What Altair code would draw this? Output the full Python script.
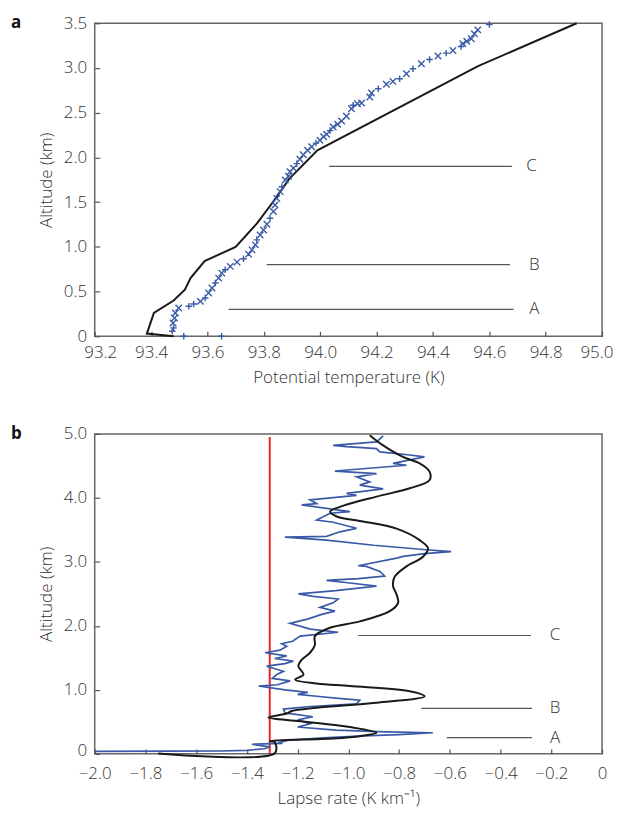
import altair as alt
import pandas as pd

# ---------------- Panel a data ----------------
# Observed potential temperature (blue crosses)
obs_T = [93.516, 93.65, 93.475, 93.48, 93.478, 93.483, 93.486, 93.498, 93.534, 93.551,
         93.575, 93.592, 93.604, 93.616, 93.628, 93.64, 93.651, 93.663, 93.681, 93.705,
         93.728, 93.746, 93.758, 93.77, 93.775, 93.787, 93.799, 93.811, 93.822, 93.834,
         93.84, 93.846, 93.858, 93.864, 93.876, 93.887, 93.893, 93.905, 93.917, 93.928,
         93.94, 93.955, 93.97, 93.985, 93.999, 94.012, 94.023, 94.035, 94.046, 94.062,
         94.076, 94.093, 94.111, 94.117, 94.132, 94.147, 94.176, 94.182, 94.206, 94.235,
         94.258, 94.282, 94.306, 94.329, 94.359, 94.388, 94.418, 94.447, 94.471, 94.5,
         94.506, 94.52, 94.536, 94.547, 94.559, 94.6]
obs_alt = [0.0, 0.0, 0.056, 0.093, 0.149, 0.204, 0.26, 0.316, 0.335, 0.36,
           0.39, 0.427, 0.483, 0.539, 0.595, 0.65, 0.706, 0.743, 0.781, 0.829,
           0.866, 0.918, 0.966, 1.022, 1.078, 1.133, 1.189, 1.252, 1.319, 1.394,
           1.468, 1.542, 1.617, 1.672, 1.747, 1.79, 1.84, 1.88, 1.93, 1.98,
           2.03, 2.08, 2.12, 2.16, 2.192, 2.23, 2.259, 2.3, 2.341, 2.37,
           2.408, 2.46, 2.545, 2.583, 2.6, 2.609, 2.676, 2.72, 2.768, 2.817,
           2.85, 2.88, 2.936, 2.991, 3.047, 3.095, 3.133, 3.166, 3.196, 3.24,
           3.27, 3.3, 3.326, 3.382, 3.426, 3.486]
obs_mark = ["+", "+", "+", "+", "×", "×", "×", "×", "+", "+",
            "×", "+", "×", "×", "+", "×", "×", "+", "×", "×",
            "+", "×", "×", "×", "+", "×", "×", "×", "+", "×",
            "×", "×", "×", "+", "×", "×", "×", "×", "+", "×",
            "×", "×", "×", "+", "×", "×", "×", "+", "×", "×",
            "×", "×", "×", "+", "×", "×", "×", "×", "+", "×",
            "×", "+", "×", "+", "×", "+", "×", "+", "×", "+",
            "×", "×", "×", "×", "×", "+"]

# Model profile (black line)
mod_T = [93.48, 93.385, 93.41, 93.48, 93.52, 93.54, 93.59, 93.70, 93.775, 93.83,
         93.89, 93.99, 94.56, 94.91]
mod_alt = [0.0, 0.03, 0.26, 0.40, 0.52, 0.65, 0.84, 1.00, 1.26, 1.49,
           1.76, 2.08, 3.02, 3.5]

# Layer markers A, B, C
a_names = ["A", "B", "C"]
a_alt = [0.30, 0.80, 1.90]
a_start = [93.675, 93.81, 94.032]
a_end = [94.686, 94.673, 94.68]
a_label_x = [94.76, 94.76, 94.75]

# ---------------- Panel b data ----------------
obs_rate = [-2.0, -1.7, -1.5, -1.4, -1.33, -1.31, -1.38, -1.26, -1.27, -1.24,
            -1.10, -0.94, -0.80, -0.667, -0.85, -1.05, -1.20, -1.15, -1.20, -1.14,
            -1.25, -1.256, -1.15, -0.968, -0.955, -1.05, -1.125, -1.20, -1.16, -1.25,
            -1.354, -1.28, -1.23, -1.30, -1.282, -1.256, -1.322, -1.25, -1.217, -1.29,
            -1.243, -1.328, -1.27, -1.243, -1.263, -1.22, -1.19, -1.04, -1.15, -1.23,
            -1.158, -1.105, -1.053, -1.112, -1.06, -1.04, -1.138, -1.197, -1.05, -0.889,
            -0.994, -1.086, -0.96, -0.857, -0.876, -0.929, -0.961, -0.81, -0.784, -0.70,
            -0.595, -0.693, -0.90, -1.086, -1.25, -1.086, -1.033, -0.968, -1.06, -1.125,
            -1.072, -0.994, -1.184, -1.125, -1.151, -0.968, -1.007, -0.863, -0.955, -0.916,
            -0.968, -0.889, -1.053, -0.771, -0.824, -0.70, -0.758, -0.876, -0.889, -1.007,
            -1.06, -0.889, -0.863]
obs_ralt = [0.04, 0.042, 0.045, 0.055, 0.08, 0.11, 0.15, 0.165, 0.18, 0.21,
            0.25, 0.28, 0.30, 0.33, 0.345, 0.37, 0.42, 0.47, 0.53, 0.58,
            0.64, 0.70, 0.74, 0.78, 0.84, 0.87, 0.90, 0.93, 0.96, 1.00,
            1.06, 1.08, 1.14, 1.18, 1.24, 1.29, 1.37, 1.41, 1.45, 1.49,
            1.53, 1.58, 1.62, 1.68, 1.72, 1.76, 1.84, 1.90, 1.95, 2.04,
            2.11, 2.18, 2.23, 2.29, 2.36, 2.42, 2.46, 2.50, 2.55, 2.62,
            2.67, 2.71, 2.74, 2.78, 2.85, 2.93, 2.94, 3.06, 3.085, 3.13,
            3.16, 3.19, 3.26, 3.34, 3.386, 3.40, 3.47, 3.525, 3.62, 3.655,
            3.76, 3.785, 3.89, 3.91, 3.97, 4.04, 4.07, 4.14, 4.20, 4.25,
            4.33, 4.38, 4.42, 4.51, 4.54, 4.64, 4.67, 4.72, 4.77, 4.80,
            4.82, 4.875, 4.97]

mod_rate = [-1.75, -1.29, -1.29, -1.31, -1.06, -0.95, -0.889, -0.994, -1.19, -1.315,
            -1.243, -1.223, -1.125, -0.889, -0.699, -0.758, -0.994, -1.125, -1.21, -1.177,
            -1.197, -1.184, -1.151, -1.132, -1.132, -1.073, -0.955, -0.837, -0.804, -0.81,
            -0.824, -0.817, -0.771, -0.706, -0.686, -0.719, -0.81, -0.955, -1.046, -1.072,
            -1.033, -0.889, -0.758, -0.68, -0.68, -0.719, -0.785, -0.863, -0.916]
mod_ralt = [0.005, 0.01, 0.18, 0.20, 0.24, 0.28, 0.33, 0.42, 0.51, 0.57,
            0.63, 0.67, 0.72, 0.80, 0.90, 0.98, 1.06, 1.10, 1.16, 1.24,
            1.37, 1.47, 1.58, 1.70, 1.84, 1.97, 2.07, 2.23, 2.36, 2.49,
            2.62, 2.77, 2.93, 3.08, 3.21, 3.34, 3.52, 3.64, 3.71, 3.785,
            3.86, 4.02, 4.15, 4.28, 4.41, 4.54, 4.64, 4.82, 4.98]

adiabat_rate = [-1.31, -1.31]
adiabat_alt = [0.0, 4.95]

b_names = ["A", "B", "C"]
b_alt = [0.254, 0.71, 1.85]
b_start = [-0.612, -0.712, -0.961]
b_end = [-0.276, -0.276, -0.28]
b_label_x = [-0.185, -0.185, -0.185]

# ---------------- Styling ----------------
FONT = "Open Sans"
TXT = "#333333"
BLUE = "#3a5aa8"
W = 509

df_obs = pd.DataFrame({"T": obs_T, "alt": obs_alt, "m": obs_mark})
df_mod = pd.DataFrame({"T": mod_T, "alt": mod_alt, "i": range(len(mod_T))})
df_ann_a = pd.DataFrame({"name": a_names, "alt": a_alt, "x0": a_start, "x1": a_end, "lx": a_label_x})

xa = alt.X("T:Q", scale=alt.Scale(domain=[93.2, 95.0], nice=False),
           axis=alt.Axis(values=[93.2 + 0.2 * k for k in range(10)], format=".1f",
                         labelFlush=True, labelFlushOffset=11, labelPadding=8, titlePadding=9,
                         title="Potential temperature (K)"))
ya = alt.Y("alt:Q", scale=alt.Scale(domain=[0, 3.5], nice=False),
           axis=alt.Axis(values=[0, 0.5, 1, 1.5, 2, 2.5, 3, 3.5],
                         labelExpr="datum.value == 0 ? '0' : format(datum.value, '.1f')",
                         title="Altitude (km)"))

xshape = "M-1,-1L1,1M1,-1L-1,1"
pshape = "M-1,0L1,0M0,-1L0,1"

pa_pts = alt.Chart(df_obs).mark_point(size=42, strokeWidth=1.4, filled=False, opacity=1).encode(
    x=xa, y=ya,
    shape=alt.Shape("m:N", scale=alt.Scale(domain=["×", "+"], range=[xshape, pshape]), legend=None),
    color=alt.value(BLUE))
pa_line = alt.Chart(df_mod).mark_line(color="#1a1a1a", strokeWidth=2).encode(
    x=alt.X("T:Q"), y=alt.Y("alt:Q"), order="i:Q")
pa_rules = alt.Chart(df_ann_a).mark_rule(color="#555555", strokeWidth=1.2).encode(
    x=alt.X("x0:Q"), x2="x1:Q", y=alt.Y("alt:Q"))
pa_text = alt.Chart(df_ann_a).mark_text(font=FONT, fontSize=17, fontWeight=300, color=TXT, align="center", baseline="middle").encode(
    x=alt.X("lx:Q"), y=alt.Y("alt:Q"), text="name:N")
pa_tag = alt.Chart(pd.DataFrame({"t": ["a"]})).mark_text(font=FONT, fontSize=17, fontWeight="bold", color="#111", align="left", baseline="middle").encode(
    x=alt.value(-84), y=alt.value(0), text="t:N")

panel_a = alt.layer(pa_line, pa_pts, pa_rules, pa_text, pa_tag).properties(width=W, height=314)

df_bobs = pd.DataFrame({"r": obs_rate, "alt": obs_ralt, "i": range(len(obs_rate))})
df_bmod = pd.DataFrame({"r": mod_rate, "alt": mod_ralt, "i": range(len(mod_rate))})
df_adi = pd.DataFrame({"r": adiabat_rate, "alt": adiabat_alt})
df_ann_b = pd.DataFrame({"name": b_names, "alt": b_alt, "x0": b_start, "x1": b_end, "lx": b_label_x})

xb = alt.X("r:Q", scale=alt.Scale(domain=[-2.0, 0], nice=False),
           axis=alt.Axis(values=[-2.0 + 0.2 * k for k in range(11)],
                         labelFlush=False, labelPadding=12, titlePadding=9,
                         labelExpr="abs(datum.value) < 1e-9 ? '0' : replace(format(datum.value, '.1f'), '-', '\u2212')",
                         title="Lapse rate (K km\u207b\u00b9)"))
yb = alt.Y("alt:Q", scale=alt.Scale(domain=[0, 5], nice=False),
           axis=alt.Axis(values=[0, 0.5, 1, 1.5, 2, 2.5, 3, 3.5, 4, 4.5, 5],
                         labelOffset={"condition": {"test": "datum.value === 0", "value": -3}, "value": 0},
                         labelExpr="datum.value == 0 ? '0' : format(datum.value, '.1f')",
                         title="Altitude (km)"))

pb_obs = alt.Chart(df_bobs).mark_line(color=BLUE, strokeWidth=1.7).encode(x=xb, y=yb, order="i:Q")
pb_mod = alt.Chart(df_bmod).mark_line(color="#1a1a1a", strokeWidth=2, interpolate="catmull-rom").encode(
    x=alt.X("r:Q"), y=alt.Y("alt:Q"), order="i:Q")
pb_adi = alt.Chart(df_adi).mark_line(color="#e8262a", strokeWidth=2).encode(x=alt.X("r:Q"), y=alt.Y("alt:Q"))
pb_rules = alt.Chart(df_ann_b).mark_rule(color="#555555", strokeWidth=1.2).encode(
    x=alt.X("x0:Q"), x2="x1:Q", y=alt.Y("alt:Q"))
pb_text = alt.Chart(df_ann_b).mark_text(font=FONT, fontSize=17, fontWeight=300, color=TXT, align="center", baseline="middle").encode(
    x=alt.X("lx:Q"), y=alt.Y("alt:Q"), text="name:N")
pb_tag = alt.Chart(pd.DataFrame({"t": ["b"]})).mark_text(font=FONT, fontSize=17, fontWeight="bold", color="#111", align="left", baseline="middle").encode(
    x=alt.value(-84), y=alt.value(0), text="t:N")

panel_b = alt.layer(pb_adi, pb_obs, pb_mod, pb_rules, pb_text, pb_tag).properties(width=W, height=321)

chart = alt.vconcat(panel_a, panel_b, spacing=38).properties(
    padding={"left": 2, "top": 4, "right": 0, "bottom": 0}
).configure_view(stroke="#666666", strokeWidth=1.5).configure_axis(
    grid=False, domain=False, ticks=True, tickSize=5, offset=-5, tickColor="#555555", tickWidth=1.2,
    labelFont=FONT, labelFontSize=17, labelFontWeight=300, labelColor=TXT, labelPadding=8,
    labelOverlap=False,
    titleFont=FONT, titleFontSize=17, titleFontWeight=300, titleColor=TXT, titlePadding=8,
)

chart.save("out.html", embed_options={"renderer": "svg", "actions": False})
